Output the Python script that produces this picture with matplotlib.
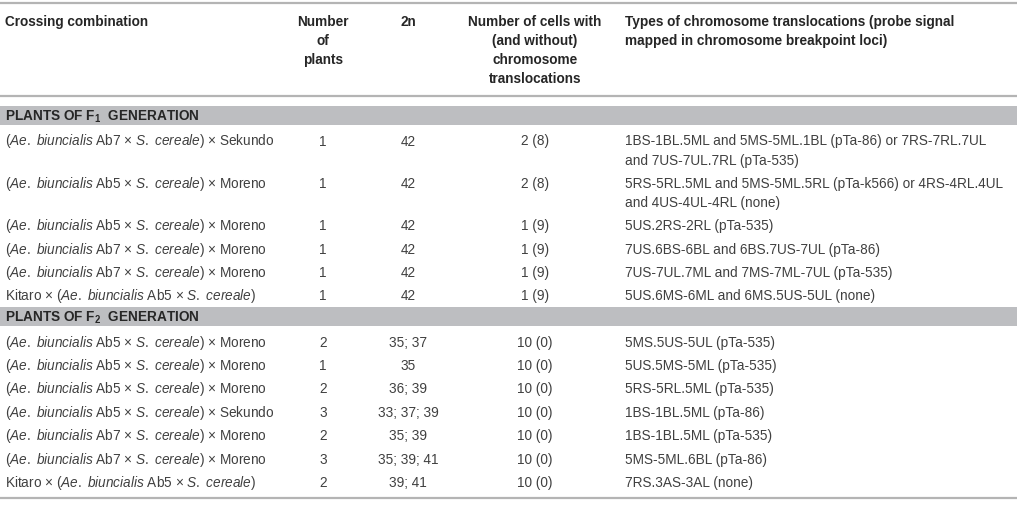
import matplotlib
matplotlib.use("Agg")
import matplotlib.pyplot as plt

plt.rcParams['font.family'] = ['Liberation Sans', 'DejaVu Sans']
plt.rcParams['mathtext.fontset'] = 'custom'
plt.rcParams['mathtext.rm'] = 'Liberation Sans'
plt.rcParams['mathtext.it'] = 'Liberation Sans:italic'
plt.rcParams['mathtext.bf'] = 'Liberation Sans:bold'

# table content
headers = ["Crossing combination",
           "Number\nof\nplants",
           "2n",
           "Number of cells with\n(and without)\nchromosome\ntranslocations",
           "Types of chromosome translocations (probe signal\nmapped in chromosome breakpoint loci)"]

f1_cross = ["(Ae. biuncialis Ab7 × S. cereale) × Sekundo",
            "(Ae. biuncialis Ab5 × S. cereale) × Moreno",
            "(Ae. biuncialis Ab5 × S. cereale) × Moreno",
            "(Ae. biuncialis Ab7 × S. cereale) × Moreno",
            "(Ae. biuncialis Ab7 × S. cereale) × Moreno",
            "Kitaro × (Ae. biuncialis Ab5 × S. cereale)"]
f1_plants = ["1", "1", "1", "1", "1", "1"]
f1_2n = ["42", "42", "42", "42", "42", "42"]
f1_cells = ["2 (8)", "2 (8)", "1 (9)", "1 (9)", "1 (9)", "1 (9)"]
f1_types = ["1BS-1BL.5ML and 5MS-5ML.1BL (pTa-86) or 7RS-7RL.7UL\nand 7US-7UL.7RL (pTa-535)",
            "5RS-5RL.5ML and 5MS-5ML.5RL (pTa-k566) or 4RS-4RL.4UL\nand 4US-4UL-4RL (none)",
            "5US.2RS-2RL (pTa-535)",
            "7US.6BS-6BL and 6BS.7US-7UL (pTa-86)",
            "7US-7UL.7ML and 7MS-7ML-7UL (pTa-535)",
            "5US.6MS-6ML and 6MS.5US-5UL (none)"]

f2_cross = ["(Ae. biuncialis Ab5 × S. cereale) × Moreno",
            "(Ae. biuncialis Ab5 × S. cereale) × Moreno",
            "(Ae. biuncialis Ab5 × S. cereale) × Moreno",
            "(Ae. biuncialis Ab5 × S. cereale) × Sekundo",
            "(Ae. biuncialis Ab7 × S. cereale) × Moreno",
            "(Ae. biuncialis Ab7 × S. cereale) × Moreno",
            "Kitaro × (Ae. biuncialis Ab5 × S. cereale)"]
f2_plants = ["2", "1", "2", "3", "2", "3", "2"]
f2_2n = ["35; 37", "35", "36; 39", "33; 37; 39", "35; 39", "35; 39; 41", "39; 41"]
f2_cells = ["10 (0)"] * 7
f2_types = ["5MS.5US-5UL (pTa-535)",
            "5US.5MS-5ML (pTa-535)",
            "5RS-5RL.5ML (pTa-535)",
            "1BS-1BL.5ML (pTa-86)",
            "1BS-1BL.5ML (pTa-535)",
            "5MS-5ML.6BL (pTa-86)",
            "7RS.3AS-3AL (none)"]

sections = [(r"PLANTS OF F$_{\mathbf{1}}$  GENERATION", f1_cross, f1_plants, f1_2n, f1_cells, f1_types),
            (r"PLANTS OF F$_{\mathbf{2}}$  GENERATION", f2_cross, f2_plants, f2_2n, f2_cells, f2_types)]


def italicize(s):
    # species names in italics, word by word so the spaces stay normal
    s = s.replace("Ae. biuncialis", r"$\mathit{Ae.}$ $\mathit{biuncialis}$")
    s = s.replace("S. cereale", r"$\mathit{S.}$ $\mathit{cereale}$")
    return s


W, H = 1017, 505
fs = 9.8
body_col = '#404040'
head_col = '#262626'
rule_col = '#b4b4b4'
band_col = '#bdbec1'

col_x = [5, 323, 408, 535, 625]
col_ha = ['left', 'center', 'center', 'center', 'left']

fig = plt.figure(figsize=(W / 100, H / 100), dpi=100)
ax = fig.add_axes([0, 0, 1, 1])
ax.set_xlim(0, W)
ax.set_ylim(H, 0)
ax.axis('off')


def cell(x, y, txt, ha, line_h, **kw):
    # y is the centre of the first line
    for i, line in enumerate(txt.split("\n")):
        ax.text(x, y + i * line_h + 5, line, ha=ha, va='baseline', fontsize=fs, **kw)


ax.axhline(3.3, color=rule_col, lw=1.6)
for x, ha, h in zip(col_x, col_ha, headers):
    cell(x, 21, h, ha, 19, color=head_col, fontweight='bold')
ax.axhline(96, color=rule_col, lw=1.6)

y = 106
for title, cross, plants, n2, cells, types in sections:
    ax.axhspan(y, y + 19, color=band_col, lw=0)
    ax.text(5, y + 9.5 + 5, title, ha='left', va='baseline', fontsize=fs,
            fontweight='bold', color=head_col)
    y += 19 + 15.5
    for row in zip(cross, plants, n2, cells, types):
        nl = max(r.count("\n") + 1 for r in row)
        row = (italicize(row[0]),) + row[1:]
        for x, ha, txt in zip(col_x, col_ha, row):
            cell(x, y, txt, ha, 19, color=body_col)
        y += 23.35 + 19 * (nl - 1)
    y = y - 23.35 + 12

ax.axhline(y + 4, color=rule_col, lw=1.6)

fig.savefig("out.png", dpi=100)
